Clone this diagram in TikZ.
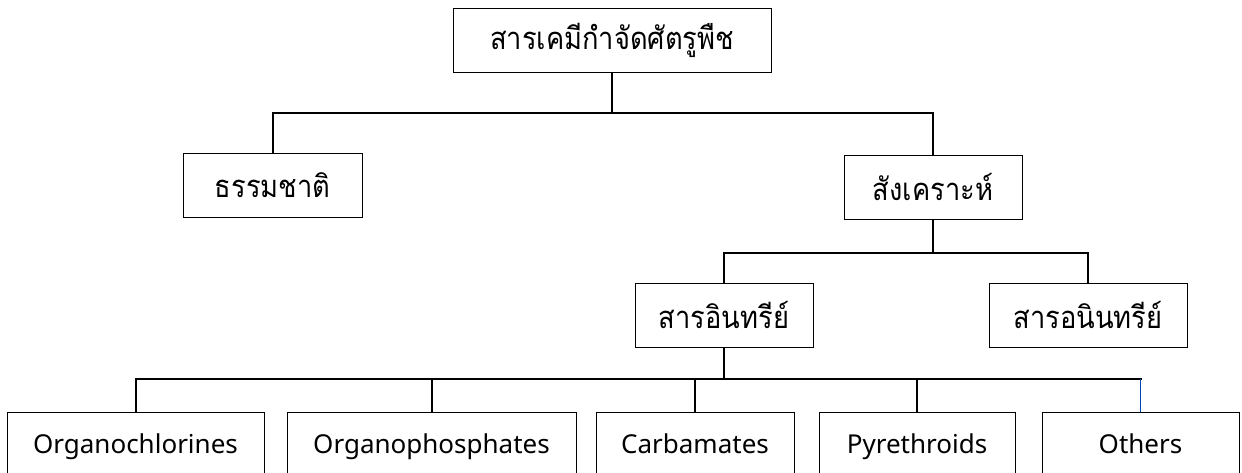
\documentclass[tikz,border=0pt]{standalone}
\usepackage{fontspec}
\newfontfamily\thaifont[Script=Thai, FakeStretch=0.88]{Loma}
\newfontfamily\latinfont{Noto Sans}
\usetikzlibrary{positioning}

\tikzset{
    box/.style={draw, line width=0.5pt, fill=white, minimum height=32pt, inner sep=0pt},
    thaibox/.style={box, font=\thaifont\fontsize{15.5}{18}\selectfont},
    engbox/.style={box, font=\latinfont\fontsize{13}{16}\selectfont, text height=9.3pt, text depth=0pt},
    link/.style={line width=1pt, line cap=rect}
}

\begin{document}
\begin{tikzpicture}[x=0.5pt, y=-0.5pt]
    \useasboundingbox (0,0) rectangle (1242,472);

    % Root
    \node[thaibox, minimum width=159pt] (pest) at (612,40.5) {สารเคมีกำจัดศัตรูพืช};

    % Tier 1
    \node[thaibox, minimum width=89.5pt] (nature) at (272.5,185) {ธรรมชาติ};
    \node[thaibox, minimum width=89pt] (synth) at (933,187) {สังเคราะห์};

    % Tier 2
    \node[thaibox, minimum width=89pt] (organic) at (724,315) {สารอินทรีย์};
    \node[thaibox, minimum width=99pt] (inorganic) at (1088,315) {สารอนินทรีย์};

    % Tier 3
    \node[engbox, minimum width=128.5pt] (ochl) at (135.5,444) {Organochlorines};
    \node[engbox, minimum width=144.5pt] (ophos) at (431.5,444) {Organophosphates};
    \node[engbox, minimum width=99pt] (carb) at (695,444) {Carbamates};
    \node[engbox, minimum width=98pt] (pyre) at (917,444) {Pyrethroids};
    \node[engbox, minimum width=98.5pt] (others) at (1140.5,444) {Others};

    % Junctions
    \coordinate (j1) at (612,113);
    \coordinate (j2) at (933,253);
    \coordinate (j3) at (724,379);

    % Connections from root
    \draw[link] (pest.south) -- (j1);
    \draw[link] (nature.north) |- (j1) -| (synth.north);

    % Connections from synth
    \draw[link] (synth.south) -- (j2);
    \draw[link] (organic.north) |- (j2) -| (inorganic.north);

    % Connections from organic
    \draw[link] (organic.south) -- (j3);
    \draw[link] (ochl.north) |- (j3) -- (others.north |- j3);
    \foreach \kind in {ophos, carb, pyre}
        \draw[link] (\kind.north) -- (\kind.north |- j3);
    \draw[line width=0.6pt, blue!60!cyan!70!black] (others.north) -- (others.north |- j3);
\end{tikzpicture}
\end{document}
